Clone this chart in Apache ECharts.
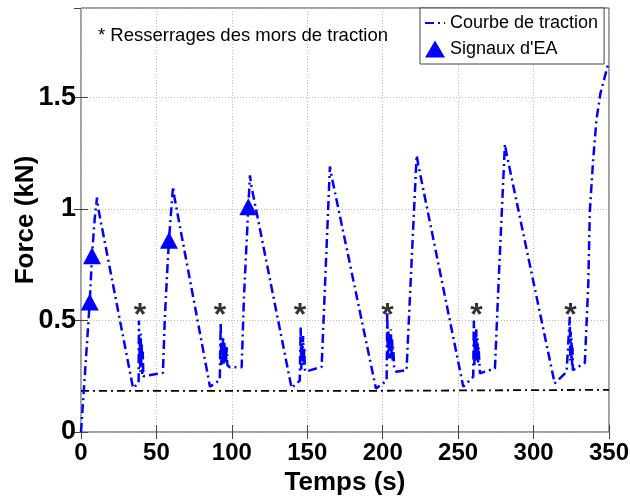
<!DOCTYPE html>
<html>
<head>
<meta charset="utf-8">
<script src="https://cdn.jsdelivr.net/npm/echarts@6/dist/echarts.min.js"></script>
<style>
    html, body { margin: 0; padding: 0; background: #fff; }
    #chart { width: 630px; height: 496px; }
</style>
</head>
<body>
<div id="chart"></div>
<script>
// courbe de traction [t (s), F (kN)]
var traction = [
    [0, 0], [2, 0.2], [4, 0.4], [5.8, 0.583], [7.3, 0.79], [9, 0.95], [10.6, 1.05], [11.5, 1.0], [34.5, 0.197],
    [38.2, 0.22], [38.4, 0.50], [38.6, 0.30], [39, 0.42], [39.3, 0.27], [39.6, 0.44], [40, 0.30], [40.3, 0.40],
    [40.6, 0.26], [41, 0.36], [41.3, 0.25], [42, 0.25], [54.3, 0.265], [55.5, 0.5], [57, 0.7], [58.3, 0.859],
    [61, 1.10], [62, 1.05], [85.5, 0.203],
    [92, 0.233], [92.6, 0.49], [93, 0.30], [93.4, 0.40], [93.8, 0.32], [94.2, 0.42], [94.6, 0.30], [95, 0.40],
    [95.4, 0.33], [95.8, 0.39], [96.2, 0.31], [96.6, 0.38], [97, 0.30], [98.7, 0.29], [106.5, 0.29], [108, 0.6],
    [110.9, 1.009], [112, 1.15], [113, 1.10], [139.6, 0.197],
    [145, 0.23], [145.6, 0.47], [146, 0.28], [146.4, 0.40], [146.8, 0.30], [147.2, 0.43], [147.6, 0.31], [148, 0.38],
    [148.4, 0.28], [148.8, 0.27], [159.5, 0.292], [162, 0.7], [165, 1.19], [166, 1.15], [195.5, 0.195],
    [202.6, 0.23], [203, 0.54], [203.4, 0.33], [203.8, 0.45], [204.2, 0.34], [204.6, 0.44], [205, 0.33], [205.4, 0.46],
    [205.8, 0.35], [206.2, 0.42], [206.6, 0.32], [207, 0.38], [207.6, 0.28], [209, 0.27], [215.8, 0.277], [218, 0.6],
    [222.5, 1.24], [223.5, 1.2], [253.4, 0.203],
    [260, 0.248], [260.4, 0.50], [260.8, 0.30], [261.2, 0.44], [261.6, 0.32], [262, 0.46], [262.4, 0.33], [262.8, 0.42],
    [263.2, 0.31], [263.6, 0.38], [264.4, 0.263], [274.4, 0.285], [277, 0.7], [281, 1.29], [282, 1.25], [314, 0.218],
    [321.9, 0.27], [324, 0.516], [324.3, 0.32], [324.6, 0.45], [324.9, 0.33], [325.2, 0.42], [325.5, 0.30], [325.8, 0.38],
    [326, 0.277], [334, 0.31], [336.3, 0.67], [337.3, 0.99], [339.5, 1.22], [341.7, 1.40], [344.4, 1.52], [349.5, 1.65]
];

// signaux d'EA (triangles)
var signauxEA = [[5.8, 0.583], [7.3, 0.79], [58.3, 0.859], [110.9, 1.009]];

// resserrages des mors (asterisks)
var resserrages = [[39.1, 0.55], [92.1, 0.55], [145.1, 0.55], [203.2, 0.55], [262.2, 0.55], [324.5, 0.55]];

// seuil horizontal (noir, trait mixte)
var seuil = [[0, 0.184], [173, 0.184], [174, 0.189], [350, 0.189]];

var xTicks = [0, 50, 100, 150, 200, 250, 300, 350];
var yTicks = [0, 0.5, 1, 1.5];

var font = 'Liberation Sans, Arial, sans-serif';
var boxColor = '#444';

var chart = echarts.init(document.getElementById('chart'));

var gridLine = { show: true, lineStyle: { color: '#bbb', type: [1, 2], width: 1 } };

chart.setOption({
    animation: false,
    backgroundColor: '#fff',
    title: {
        text: '* Resserrages des mors de traction',
        left: 93,
        top: 21,
        textStyle: { fontFamily: font, fontSize: 18.5, fontWeight: 'normal', color: '#000' }
    },
    legend: {
        orient: 'vertical',
        left: 420,
        top: 8,
        padding: [6, 6, 6, 4],
        itemGap: 8,
        itemWidth: 20,
        itemHeight: 17,
        borderColor: boxColor,
        borderWidth: 1,
        backgroundColor: '#fff',
        textStyle: { fontFamily: font, fontSize: 18, color: '#000' },
        data: [
            { name: 'Courbe de traction', itemStyle: { opacity: 0 } },
            { name: "Signaux d'EA" }
        ]
    },
    grid: {
        left: 81, right: 21, top: 8, bottom: 64,
        outerBoundsMode: 'none',
        containLabel: false,
        show: true, borderColor: boxColor, borderWidth: 1
    },
    xAxis: [{
        type: 'value',
        min: 0, max: 350, interval: 50,
        name: 'Temps (s)',
        nameLocation: 'middle',
        nameGap: 30,
        nameTextStyle: { fontFamily: font, fontSize: 26, fontWeight: 'bold', color: '#000' },
        axisLine: { show: false },
        axisTick: { show: true, inside: true, length: 7, lineStyle: { color: boxColor } },
        axisLabel: {
            margin: 9, fontFamily: font, fontSize: 24, fontWeight: 'bold', color: '#000',
            formatter: function (v) { return xTicks.indexOf(v) >= 0 ? String(v) : ''; }
        },
        splitLine: gridLine
    }, {
        type: 'value', position: 'top',
        min: 0, max: 350, interval: 50,
        axisLine: { show: false },
        axisTick: { show: true, inside: true, length: 7, lineStyle: { color: boxColor } },
        axisLabel: { show: false },
        splitLine: { show: false }
    }],
    yAxis: [{
        type: 'value',
        min: 0, max: 1.9, interval: 0.5,
        name: 'Force (kN)',
        nameLocation: 'middle',
        nameGap: 42,
        nameMoveOverlap: false,
        nameTextStyle: { fontFamily: font, fontSize: 26, fontWeight: 'bold', color: '#000' },
        axisLine: { show: false },
        axisTick: { show: true, inside: true, length: 7, lineStyle: { color: boxColor } },
        axisLabel: {
            margin: 5, fontFamily: font, fontSize: 27, fontWeight: 'bold', color: '#000',
            showMaxLabel: false,
            formatter: function (v) { return yTicks.indexOf(v) >= 0 ? String(v) : ''; }
        },
        splitLine: gridLine
    }, {
        type: 'value', position: 'right',
        min: 0, max: 1.9, interval: 0.5,
        axisLine: { show: false },
        axisTick: { show: true, inside: true, length: 7, lineStyle: { color: boxColor } },
        axisLabel: { show: false },
        splitLine: { show: false }
    }],
    series: [{
        name: 'seuil',
        type: 'line',
        data: seuil,
        symbol: 'none',
        lineStyle: { color: '#000', width: 1.8, type: [8, 4, 2, 4] },
        z: 2
    }, {
        name: 'Courbe de traction',
        type: 'line',
        data: traction,
        symbol: 'none',
        color: '#0000ff',
        lineStyle: { color: '#0000ff', width: 2.5, type: [9, 4, 2, 4] },
        z: 3
    }, {
        name: "Signaux d'EA",
        type: 'scatter',
        data: signauxEA,
        symbol: 'triangle',
        symbolSize: [18, 17],
        itemStyle: { color: '#0000ff', opacity: 1 },
        z: 4
    }, {
        name: 'resserrages',
        type: 'scatter',
        data: resserrages,
        symbolSize: 0,
        label: {
            show: true,
            position: 'inside',
            formatter: '*',
            fontFamily: font,
            fontSize: 32,
            fontWeight: 'bold',
            color: '#000',
            offset: [0, 7]
        },
        z: 5
    }]
});
</script>
</body>
</html>
